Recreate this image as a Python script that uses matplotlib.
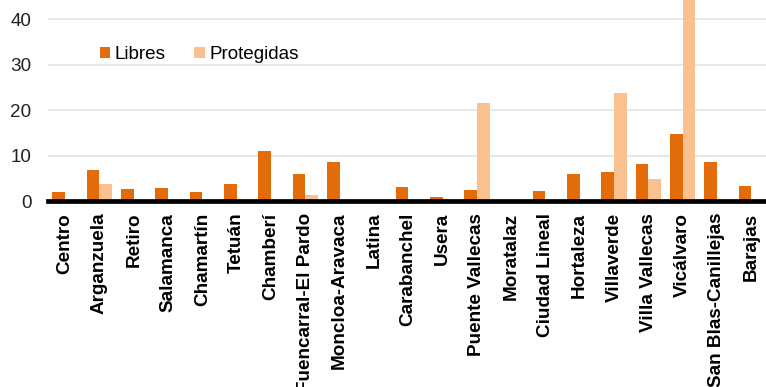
import matplotlib.pyplot as plt
import numpy as np

plt.rcParams['font.family'] = ['Liberation Sans', 'DejaVu Sans']

distritos = ["Centro", "Arganzuela", "Retiro", "Salamanca", "Chamartín", "Tetuán",
             "Chamberí", "Fuencarral-El Pardo", "Moncloa-Aravaca", "Latina",
             "Carabanchel", "Usera", "Puente Vallecas", "Moratalaz", "Ciudad Lineal",
             "Hortaleza", "Villaverde", "Villa Vallecas", "Vicálvaro",
             "San Blas-Canillejas", "Barajas"]
libres = [2.0, 6.8, 2.6, 2.9, 1.9, 3.7, 10.9, 5.9, 8.6, 0.0,
          3.1, 0.9, 2.5, 0.0, 2.2, 5.9, 6.4, 8.1, 14.7, 8.6, 3.3]
protegidas = [0.0, 3.7, 0.0, 0.0, 0.0, 0.0, 0.0, 1.3, 0.0, 0.0,
              0.0, 0.0, 21.5, 0.0, 0.0, 0.0, 23.7, 4.8, 48.0, 0.0, 0.0]

c_libres = "#E36C0A"
c_prot = "#FAC090"

fig = plt.figure(figsize=(7.66, 3.87), dpi=100)
ax = fig.add_axes([48 / 766, 1 - 201 / 387, 1 - 48 / 766, 201 / 387])

x = np.arange(len(distritos))
w = 0.37
ax.bar(x - w / 2, libres, w, color=c_libres, label="Libres", zorder=3)
ax.bar(x + w / 2, protegidas, w, color=c_prot, label="Protegidas", zorder=3)

ax.set_xlim(-0.5, 20.43)
ax.set_ylim(0, 44.2)
ax.set_yticks([0, 10, 20, 30, 40])
ax.yaxis.grid(True, color="#e3e3e3", linewidth=1.2, zorder=0)
ax.set_axisbelow(True)

for s in ["left", "right", "top"]:
    ax.spines[s].set_visible(False)
ax.spines["bottom"].set_linewidth(3.4)
ax.spines["bottom"].set_color("black")
ax.spines["bottom"].set_zorder(4)

ax.set_xticks(x)
ax.set_xticklabels(distritos, rotation=90, fontweight="bold", fontsize=13.6)
ax.tick_params(axis="x", length=0, pad=8.5)
ax.tick_params(axis="y", length=0, pad=12, labelsize=13.6, labelcolor="#222222")

ax.legend(loc="upper left", bbox_to_anchor=(0.072, 0.77), ncol=2, frameon=False,
          fontsize=13.6, handlelength=0.55, handleheight=0.55, handletextpad=0.25,
          columnspacing=1.5, borderpad=0, borderaxespad=0)

fig.savefig("out.png", dpi=100)
